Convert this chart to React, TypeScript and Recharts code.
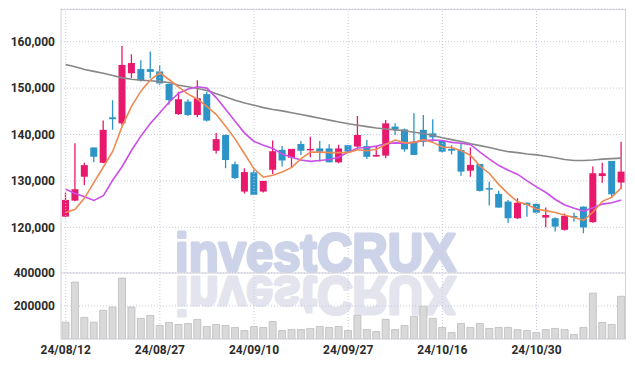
import React from 'react';
import {
  ComposedChart,
  Bar,
  Line,
  XAxis,
  YAxis,
  CartesianGrid,
  ReferenceLine,
} from 'recharts';

// trading days shown on the chart
const dates = [
  '24/08/12', '24/08/13', '24/08/14', '24/08/16', '24/08/19', '24/08/20', '24/08/21', '24/08/22', '24/08/23', '24/08/26',
  '24/08/27', '24/08/28', '24/08/29', '24/08/30', '24/09/02', '24/09/03', '24/09/04', '24/09/05', '24/09/06', '24/09/09',
  '24/09/10', '24/09/11', '24/09/12', '24/09/13', '24/09/19', '24/09/20', '24/09/23', '24/09/24', '24/09/25', '24/09/26',
  '24/09/27', '24/09/30', '24/10/02', '24/10/04', '24/10/07', '24/10/08', '24/10/10', '24/10/11', '24/10/14', '24/10/15',
  '24/10/16', '24/10/17', '24/10/18', '24/10/21', '24/10/22', '24/10/23', '24/10/24', '24/10/25', '24/10/28', '24/10/29',
  '24/10/30', '24/10/31', '24/11/01', '24/11/04', '24/11/05', '24/11/06', '24/11/07', '24/11/08', '24/11/11', '24/11/12',
];

const opens = [
  122300, 125750, 130900, 137200, 133900, 143700, 142400, 153200, 154100, 154100,
  153600, 150900, 144400, 147100, 144200, 148700, 136500, 139900, 133600, 127700,
  131850, 127700, 132400, 136700, 135000, 137950, 136850, 137000, 137000, 134000,
  137700, 137400, 137500, 135250, 135450, 141700, 141100, 138450, 141000, 140250,
  138600, 136900, 136650, 132200, 133650, 128450, 127200, 125550, 121950, 125300,
  125050, 122100, 121950, 119450, 122450, 124450, 121100, 131050, 134300, 129650,
];
const highs = [
  127500, 138100, 133900, 137200, 143000, 147400, 159100, 157300, 156000, 157900,
  155000, 151000, 149200, 147600, 151700, 149200, 140300, 140000, 134200, 132700,
  132400, 130000, 138700, 137500, 136900, 138600, 139500, 138600, 137900, 137800,
  137750, 144000, 138800, 137500, 143100, 142400, 141300, 144600, 144200, 143300,
  138600, 137700, 138100, 137200, 133650, 129800, 127900, 125900, 126250, 125350,
  125300, 124250, 122150, 123000, 123150, 124500, 133100, 133900, 134300, 138450,
];
const lows = [
  122200, 125600, 129100, 134000, 133800, 141000, 142000, 152200, 151400, 152100,
  150700, 146400, 144200, 144000, 143700, 142800, 135900, 132700, 130400, 127300,
  126900, 127500, 131500, 133100, 132900, 135600, 135100, 134200, 134000, 133800,
  136150, 137200, 134700, 135200, 134900, 139900, 136300, 135600, 137400, 138450,
  136100, 135700, 131100, 130900, 127700, 124700, 124200, 120900, 121800, 122300,
  122900, 120000, 119100, 119300, 121200, 118700, 121000, 129600, 126600, 128200,
];
const closes = [
  125900, 128200, 133400, 135200, 141000, 143300, 155000, 155400, 151700, 153500,
  151000, 147400, 147600, 144200, 147800, 143000, 139000, 134500, 130600, 131900,
  127000, 130000, 136400, 134400, 136900, 136500, 136900, 136300, 134000, 137000,
  136300, 139900, 135200, 135600, 142400, 141100, 136800, 135600, 138450, 139400,
  136300, 136500, 132000, 133450, 127850, 128400, 124250, 121950, 125300, 124800,
  123150, 122650, 120150, 122450, 122150, 119950, 131650, 131650, 127100, 132000,
];

// moving averages as drawn (orange, purple, grey)
const maShort = [
  123200, 123900, 126300, 129700, 133000, 136400, 141800, 146100, 149400, 151800,
  153300, 151800, 150200, 148700, 147600, 146000, 144300, 141700, 139000, 135800,
  132600, 130800, 131200, 131900, 132900, 134800, 136200, 136200, 136100, 136100,
  136100, 136700, 136500, 136800, 137900, 138800, 138200, 138300, 138900, 138300,
  137300, 137200, 136500, 135500, 133200, 131600, 129200, 127200, 125500, 124900,
  123900, 123600, 123200, 122600, 122100, 121500, 123300, 125600, 126500, 128500,
];
const maMid = [
  128200, 127300, 126600, 125800, 126800, 130200, 133100, 136600, 139700, 142400,
  144700, 147000, 148900, 149800, 150300, 150000, 147900, 145400, 142800, 140300,
  138500, 137700, 137000, 135800, 135100, 134500, 134200, 134400, 134600, 135100,
  136200, 137100, 137200, 137500, 138000, 138200, 138100, 138300, 138700, 138800,
  138700, 138300, 138100, 137800, 136200, 134700, 133300, 132300, 131400, 130000,
  128700, 127500, 126000, 124800, 124100, 123500, 124200, 125000, 125300, 125900,
];
const maLong = [
  155100, 154600, 154000, 153600, 153200, 152700, 152200, 151900, 151700, 151600,
  151400, 151200, 150600, 150300, 149900, 149500, 148800, 148100, 147400, 146800,
  146300, 145800, 145400, 145100, 144700, 144300, 143900, 143500, 143100, 142700,
  142300, 142000, 141700, 141400, 141200, 141000, 140800, 140500, 140200, 139800,
  139300, 138900, 138500, 138000, 137600, 137200, 136700, 136300, 136100, 135800,
  135600, 135300, 135000, 134600, 134400, 134400, 134500, 134700, 134800, 134900,
];

const volumes = [
  102000, 345000, 131000, 102000, 174000, 194000, 369000, 194000, 125000, 143000,
  82000, 100000, 88000, 94000, 119000, 76000, 88000, 82000, 70000, 51000,
  76000, 70000, 106000, 51000, 57000, 57000, 64000, 76000, 70000, 76000,
  51000, 143000, 57000, 45000, 119000, 57000, 82000, 137000, 198000, 125000,
  70000, 39000, 94000, 70000, 94000, 64000, 70000, 70000, 57000, 51000,
  39000, 57000, 64000, 57000, 27000, 70000, 278000, 100000, 88000, 259000,
];

const tickDates = ['24/08/12', '24/08/27', '24/09/10', '24/09/27', '24/10/16', '24/10/30'];
const priceTicks = [120000, 130000, 140000, 150000, 160000];
const volumeTicks = [200000, 400000];

const UP = '#e8196c';
const DOWN = '#2c94c7';
const GRID = '#c6c9dc';
const FRAME = '#d2d2da';
const tickStyle = { fontSize: 12, fill: '#2b2b2b', fontFamily: 'Roboto, sans-serif', fontWeight: 700 };

const data = dates.map((date, i) => ({
  date,
  open: opens[i],
  high: highs[i],
  low: lows[i],
  close: closes[i],
  range: [lows[i], highs[i]],
  maShort: maShort[i],
  maMid: maMid[i],
  maLong: maLong[i],
  volume: volumes[i],
}));

const Candle = (props: any) => {
  const { x, y, width, height, payload } = props;
  const { open, close, high, low } = payload;
  const top = Math.min(y, y + height);
  const span = Math.abs(height);
  const unit = high === low ? 0 : span / (high - low);
  const yOf = (v: number) => top + (high - v) * unit;
  const color = close >= open ? UP : DOWN;
  const bodyTop = yOf(Math.max(open, close));
  const bodyH = Math.max(1.5, Math.abs(yOf(open) - yOf(close)));
  const cx = x + width / 2;
  return (
    <g>
      <line x1={cx} x2={cx} y1={top} y2={top + span} stroke={color} strokeWidth={1.3} />
      <rect x={x} y={bodyTop} width={width} height={bodyH} fill={color} />
    </g>
  );
};

const wmFont = "'Liberation Sans', Arial, sans-serif";

const Watermark = () => (
  <svg width={635} height={366} style={{ position: 'absolute', left: 0, top: 0 }}>
    <defs>
      <linearGradient id="reflect" x1="0" y1="273" x2="0" y2="304" gradientUnits="userSpaceOnUse">
        <stop offset="0%" stopColor="#e3e4ed" />
        <stop offset="70%" stopColor="#eaeaf1" />
        <stop offset="100%" stopColor="#ffffff" stopOpacity={0} />
      </linearGradient>
    </defs>
    <text
      x={175}
      y={271}
      fontFamily={wmFont}
      fontWeight={700}
      fontSize={54}
      textLength={281}
      lengthAdjust="spacingAndGlyphs"
      fill="#cdd3e8"
      stroke="#cdd3e8"
      strokeWidth={3}
      strokeLinejoin="round"
    >
      investCRUX
    </text>
    <text
      x={175}
      y={271}
      transform="translate(0 548) scale(1 -1)"
      fontFamily={wmFont}
      fontWeight={700}
      fontSize={54}
      textLength={281}
      lengthAdjust="spacingAndGlyphs"
      fill="url(#reflect)"
      stroke="url(#reflect)"
      strokeWidth={3}
      strokeLinejoin="round"
    >
      investCRUX
    </text>
  </svg>
);

export default function App() {
  return (
    <div style={{ position: 'fixed', left: 0, top: 0, width: 635, height: 366, background: '#fff' }}>
      <Watermark />
      <div style={{ position: 'absolute', left: 0, top: 0 }}>
        <ComposedChart width={635} height={273} data={data} margin={{ top: 9, right: 9, bottom: 0, left: 0 }}>
          <CartesianGrid vertical={false} stroke={GRID} strokeDasharray="1 2" />
          {tickDates.map((d) => (
            <ReferenceLine key={d} x={d} stroke={GRID} strokeDasharray="1 2" />
          ))}
          <XAxis dataKey="date" hide />
          <YAxis
            domain={[110150, 167050]}
            ticks={priceTicks}
            allowDataOverflow
            width={61}
            tickLine={false}
            tickMargin={0}
            axisLine={{ stroke: FRAME }}
            tick={tickStyle}
            tickFormatter={(v: number) => v.toLocaleString('en-US')}
          />
          <Line dataKey="maLong" stroke="#878787" strokeWidth={1.6} dot={false} isAnimationActive={false} />
          <Line dataKey="maMid" stroke="#c94fe6" strokeWidth={1.6} dot={false} isAnimationActive={false} />
          <Line dataKey="maShort" stroke="#ee8a52" strokeWidth={1.6} dot={false} isAnimationActive={false} />
          <Bar dataKey="range" barSize={7} shape={(p: any) => <Candle {...p} />} isAnimationActive={false} />
        </ComposedChart>
      </div>
      <div style={{ position: 'absolute', left: 0, top: 263 }}>
        <ComposedChart width={635} height={103} data={data} margin={{ top: 10, right: 9, bottom: 0, left: 0 }} barCategoryGap={1}>
          <CartesianGrid vertical={false} stroke={GRID} strokeDasharray="1 2" />
          {tickDates.map((d) => (
            <ReferenceLine key={d} x={d} stroke={GRID} strokeDasharray="1 2" />
          ))}
          <XAxis
            dataKey="date"
            ticks={tickDates}
            interval={0}
            height={27}
            tickLine={false}
            tickMargin={0}
            axisLine={{ stroke: FRAME }}
            tick={tickStyle}
          />
          <YAxis
            domain={[0, 400000]}
            ticks={volumeTicks}
            allowDataOverflow
            width={61}
            tickLine={false}
            tickMargin={0}
            axisLine={{ stroke: FRAME }}
            tick={tickStyle}
          />
          <ReferenceLine y={400000} stroke={FRAME} />
          <Bar dataKey="volume" fill="#d9d9d9" stroke="#bdbdbd" strokeWidth={0.8} isAnimationActive={false} />
        </ComposedChart>
      </div>
      <div
        style={{
          position: 'absolute',
          left: 61,
          top: 9,
          width: 565,
          height: 330,
          borderTop: `1px solid ${FRAME}`,
          borderRight: `1px solid ${FRAME}`,
          boxSizing: 'border-box',
          pointerEvents: 'none',
        }}
      />
    </div>
  );
}
